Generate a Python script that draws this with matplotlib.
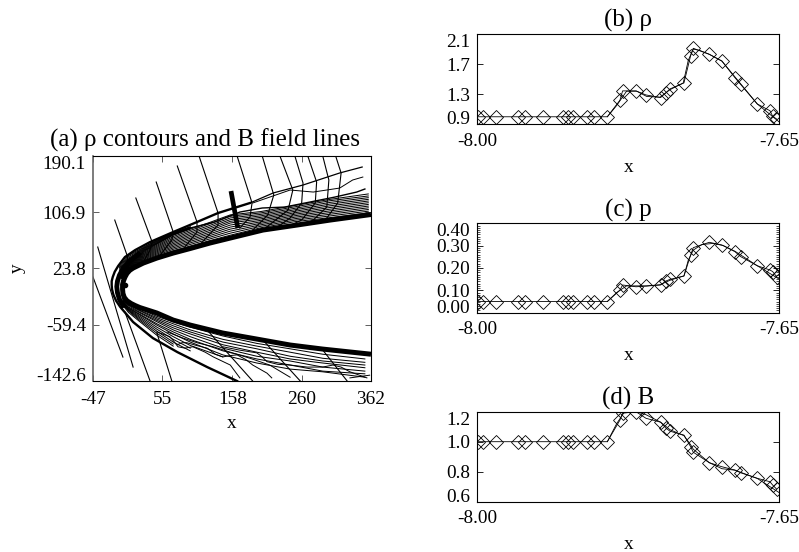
import numpy as np
import matplotlib
matplotlib.use("Agg")
import matplotlib.pyplot as plt

plt.rcParams['font.family'] = ['Liberation Serif', 'DejaVu Serif']

# ---------- profile panels ----------
x_pts = [-7.9988,-7.993,-7.9788,-7.9533,-7.9448,-7.9235,-7.9011,-7.8945,-7.8895,-7.8725,-7.8648,-7.8493,
         -7.8347,-7.8316,-7.8161,-7.8045,-7.7875,-7.7813,-7.7767,-7.7605,-7.7528,-7.7497,-7.7311,-7.7165,
         -7.7014,-7.6948,-7.6755,-7.6608,-7.6577,-7.6531]
rho_pts = [1.0]*12 + [1.22,1.344,1.344,1.29,1.256,1.32,1.37,1.45,1.81,1.91,1.83,1.74,1.52,1.43,1.17,1.08,1.007,0.97]
p_pts = [0.05]*12 + [.101,.124,.116,.119,.124,.142,.149,.164,.258,.291,.315,.303,.273,.251,.21,.191,.184,.161]
b_pts = [1.0]*12 + [1.144,1.19,1.2,1.156,1.13,1.09,1.07,1.044,.967,.93,.86,.833,.811,.793,.756,.733,.711,.684]

x_smooth_rho = [-7.8493,-7.8385,-7.827,-7.8153,-7.8037,-7.7883,-7.7767,-7.7613,-7.7555,-7.7497,-7.7419,-7.7311,-7.7165,-7.7014,-7.6755,-7.65]
rho_smooth = [1.0,1.15,1.34,1.34,1.27,1.26,1.36,1.45,1.75,1.9,1.88,1.83,1.74,1.53,1.17,0.93]
x_smooth_p = [-7.8493,-7.8385,-7.827,-7.8037,-7.7883,-7.7767,-7.7605,-7.7555,-7.7497,-7.7399,-7.7264,-7.7148,-7.7014,-7.6755,-7.65]
p_smooth = [.05,.09,.12,.12,.125,.145,.165,.235,.28,.305,.31,.30,.275,.21,.15]
x_smooth_b = [-7.8493,-7.8385,-7.827,-7.8045,-7.7875,-7.7767,-7.7605,-7.7528,-7.7497,-7.7311,-7.7165,-7.7014,-7.6755,-7.65]
b_smooth = [1.0,1.12,1.22,1.18,1.13,1.08,1.04,.98,.95,.86,.82,.81,.755,.66]

# ---------- panel (a): boundaries ----------
outer_up_x = [349,316,262,218,184]
outer_up_y = [173.8,165,147.2,135.4,120.6]
outer_x = [184,137,106,71,37,15,0,-10,-15,-18,-19.5,-19.5,-19,-17,-13,-7,12,41,77,121,165]
outer_y = [120.6,105.8,92.5,77.7,62.9,51,40.7,27.4,19,11,5,-1,-7,-15,-24,-33,-55.4,-79.1,-99.8,-122,-142.7]
inner_x = [362,302,253,203,155,125,96,71,47,27,12,7,3,0,-2,-3.5,-3.5,-3,-1,3,9,15,22,47,71,96,144,194,243,291,362]
inner_y = [103.6,95.4,88,80.6,68.8,61.4,53.3,46.6,39.2,31.8,24.4,21,16.5,11,6,0,-7,-13,-19,-24,-28,-31,-34,-42.1,-52.5,-59.9,-71.7,-80.6,-89.4,-95.4,-103]
nose_x = [20,8,-2,-8,-11,-12,-11,-8,-3]
nose_y = [45,36,25,14,5,-3,-12,-22,-31]
blob_x = [0]
blob_y = [-0.7]

# upper contours: one row per x station, one column per contour
up_x = [-5,5,27,47,71,96,125,155,200,250,302,358]
up_y = [
 [9,9.5,10,10.5,11,11.5,12,12.5,13,13.5,14,14.5],
 [21,21.8,22.6,23.4,24.2,25,25.8,26.6,27.4,28.2,29,29.8],
 [35,36.2,37.4,38.6,39.8,41,42.2,43.4,44.6,45.8,47,48.2],
 [42,43.6,45.2,46.8,48.4,50,51.6,53.2,54.8,56.4,58,59.6],
 [50,52.1,54.2,56.3,58.4,60.5,62.6,64.7,66.8,68.9,71,73],
 [57,59.3,61.6,63.9,66.2,68.5,70.8,73.1,75.4,77.7,80,82],
 [65,67.5,70,72.5,75,77.5,80,82.5,85,87.5,90,92],
 [73,76,79,82,85,88,91,93.5,96,98.5,101,103],
 [84,86.2,88.4,90.6,92.8,95,97.2,99.4,101.6,103.8,106,108],
 [93,95.2,97.4,99.6,101.8,104,106.2,108.4,110.6,112.8,115,117],
 [99,101.5,104,106.5,109,111.5,114,116.5,119,121.5,124,126],
 [106,108.5,111,113.5,116,118.5,121,123.5,126,128.5,131,134],
]
# the contours squeezed against the shock on the left
up2_x = [-8,5,27,47,71,96]
up2_y = [
 [15,17,19,21,23,25,27],
 [31,33,35,37,39,41,43],
 [49,50,51,52,53,54,55],
 [60.5,61.3,62,63,64,65,66],
 [73.5,74,74.5,75,75.5,76,76.5],
 [82.5,83,83.5,84,84.5,85,85.5],
]
wave1_x = [96,132,169,202,235,272,309,341,353]
wave1_y = [83.6,92.5,107.2,113.2,114.6,122,129.4,136.8,141.3]
wave2_x = [188,243,277,316,335,350]
wave2_y = [120.6,139.8,136.8,142.7,154.6,159]

# lower contours: one row per contour
low_x = [-3,5,22,47,71,96,144,194,243,291,353]
low_y = [
 [-20,-28,-36,-47,-55,-63,-76,-87,-95,-103,-110],
 [-21,-29,-38,-49,-58,-67,-81,-91,-100,-109,-115],
 [-22,-30,-39,-51,-61,-70,-85,-95,-106,-113,-119],
 [-23,-31,-41,-53,-64,-73,-89,-100,-110,-116,-123],
 [-24,-33,-42,-55,-67,-77,-94,-106,-113,-122,-128],
 [-25,-34,-44,-58,-70,-81,-98,-110,-119,-128,-132],
 [-26,-35,-45,-60,-73,-85,-104,-116,-125,-129,-137],
 [-27,-36,-47,-63,-77,-90,-107,np.nan,np.nan,np.nan,np.nan],
 [-28,-37,-49,-66,-81,-94,np.nan,np.nan,np.nan,np.nan,np.nan],
 [-29,-38,-51,-69,-85,-98,np.nan,np.nan,np.nan,np.nan,np.nan],
 [-30,-39,-53,-72,-88,np.nan,np.nan,np.nan,np.nan,np.nan,np.nan],
 [-31,-41,-55,-75,-91,np.nan,np.nan,np.nan,np.nan,np.nan,np.nan],
]
wig0_x = [47,66,72,78,88,100,118,130,155,169]
wig0_y = [-70,-77,-84,-92,-94,-92,-100,-107,-119,-138]
wig1_x = [77,84,91,105,121,133,144,155,165,178,188,209,216]
wig1_y = [-89,-86,-86,-90,-94,-103,-107,-105,-104,-111,-119,-131,-138]
wig2_x = [62,85,106,130,155,184,213,243]
wig2_y = [-70,-79,-86,-92,-100,-109,-119,-137]
wig3_x = [144,169,194,202,209,225,243,268,291,306,318,331,356]
wig3_y = [-92,-97,-101,-107,-114,-118,-119,-122,-122,-119,-122,-129,-138]
wig4_x = [331,360]
wig4_y = [-138,-134]

# field lines
field_lines = [
 ([-47,-3],[11.1,-107.2]),
 ([-40,12],[55.5,-122]),
 ([-15,4,3,0],[95.4,40.7,28.9,14.1]),
 ([16,40,37,27],[128,62.9,51,33.3]),
 ([46,71,69,52],[151.6,77.7,65.8,43.7]),
 ([77,106,106,88],[175.3,92.5,77.7,55.5]),
 ([109,137,137,107],[190.1,105.8,88,55.5]),
 ([165,187,184,169],[190.1,120.6,99.9,83.6]),
 ([202,219,210,188],[190.1,132.4,102.8,80.6]),
 ([228,247,240,203],[190.1,139.8,110.2,80.6]),
 ([250,262,260,243,218],[190.1,150.1,120.6,98.4,80.6]),
 ([269,282,280,260,235],[190.1,151.6,120.6,95.4,83.6]),
 ([291,300,297,277,260],[190.1,154.6,114.7,95.4,88]),
 ([310,318,313,297,282],[190.1,165,120.6,98.4,91]),
 ([0,37],[-40.6,-142.7]),
 ([47,69],[-71.7,-142.7]),
 ([121,188],[-67.3,-142.7]),
 ([203,258],[-82,-142.7]),
 ([291,327],[-96.8,-142.7]),
]
thick_x = [156,166]
thick_y = [138.3,83.6]

W, H = 799, 552
fig = plt.figure(figsize=(W/100, H/100), dpi=100)

def box(l, t, r, b):
    return [l/W, 1-b/H, (r-l)/W, (b-t)/H]

FS = 13.9
TFS = 18
LW = 0.72

# panel (a)
ax = fig.add_axes(box(93, 156, 371, 381))
ax.set_xlim(-47, 362)
ax.set_ylim(-142.6, 190.1)
ax.plot(up_x, up_y, color='k', lw=LW)
ax.plot(up2_x, up2_y, color='k', lw=LW)
for row in low_y:
    ax.plot(low_x, row, color='k', lw=LW)
for xs, ys in [(wig0_x,wig0_y),(wig1_x,wig1_y),(wig2_x,wig2_y),(wig3_x,wig3_y),(wig4_x,wig4_y),(wave2_x,wave2_y)]:
    ax.plot(xs, ys, color='k', lw=0.7)
ax.plot(wave1_x, wave1_y, color='k', lw=1.0)
for xs, ys in field_lines:
    ax.plot(xs, ys, color='k', lw=0.8)
ax.plot(outer_up_x, outer_up_y, color='k', lw=0.9)
ax.plot(outer_x, outer_y, color='k', lw=1.7)
ax.plot(nose_x, nose_y, color='k', lw=3.5)
ax.plot(inner_x, inner_y, color='k', lw=3.6, solid_capstyle='butt')
ax.plot(thick_x, thick_y, color='k', lw=3.4, solid_capstyle='butt')
ax.plot(blob_x, blob_y, 'o', color='k', ms=3)
ax.set_xticks([-47,55,158,260,362])
ax.set_xticklabels(['-47','55','158','260','362'], fontsize=FS)
ax.set_yticks([-142.6,-59.4,23.8,106.9,190.1])
ax.set_yticklabels(['-142.6','-59.4','23.8','106.9','190.1'], fontsize=FS)
ax.tick_params(direction='in', length=4, width=0.6, top=True, right=True, color='#444444')
ax.tick_params(axis='x', pad=7)
ax.tick_params(axis='y', pad=5)
lab = ax.get_yticklabels()
lab[0].set_va('baseline'); lab[-1].set_va('top')
for s in ax.spines.values():
    s.set_linewidth(0.8)
ax.spines['left'].set_color('#666666')
ax.spines['left'].set_linewidth(1.2)
ax.text(204.5/W, 1-140/H, '(a) ρ contours and B field lines', fontsize=TFS,
        ha='center', va='center', transform=fig.transFigure)
ax.set_xlabel('x', fontsize=FS, labelpad=5.5)
ax.set_ylabel('y', fontsize=FS, labelpad=7.5)

def profile(top, bottom, title, xs, ys, sx, sy, ylim, ticks, labels, minor=None):
    a = fig.add_axes(box(477.3, top, 779.3, bottom))
    a.plot(sx, sy, color='k', lw=0.6)
    a.plot(xs, ys, color='k', lw=0.6, marker='D', ms=7.2, mfc='none', mec='k', mew=0.6)
    a.set_xlim(-8.0, -7.65)
    a.set_ylim(*ylim)
    a.set_xticks([-8.0, -7.65])
    a.set_xticklabels(['-8.00', '-7.65'], fontsize=FS)
    a.set_yticks(ticks)
    a.set_yticklabels(labels, fontsize=FS)
    if minor is not None:
        a.set_yticks(minor, minor=True)
        a.tick_params(axis='y', which='minor', direction='in', length=2, width=0.5, left=True, right=True)
    a.tick_params(axis='y', which='major', direction='in', length=4, width=0.6, left=True, right=True, pad=5)
    a.tick_params(axis='x', which='major', direction='in', length=0, pad=6)
    l = a.get_yticklabels()
    l[0].set_va('baseline'); l[-1].set_va('top')
    for s in a.spines.values():
        s.set_linewidth(0.8)
    a.set_title(title, fontsize=TFS, pad=5)
    a.set_xlabel('x', fontsize=FS, labelpad=6.5)
    return a

profile(34, 124.3, '(b) ρ', x_pts, rho_pts, x_smooth_rho, rho_smooth, (0.9, 2.1),
        [0.9,1.3,1.7,2.1], ['0.9','1.3','1.7','2.1'])
profile(223.3, 312.7, '(c) p', x_pts, p_pts, x_smooth_p, p_smooth, (0.0, 0.40),
        [0,0.1,0.2,0.3,0.4], ['0.00','0.10','0.20','0.30','0.40'],
        minor=[i/100 for i in range(0, 41)])
profile(411.7, 501.7, '(d) B', x_pts, b_pts, x_smooth_b, b_smooth, (0.6, 1.2),
        [0.6,0.8,1.0,1.2], ['0.6','0.8','1.0','1.2'])

fig.savefig('out.png', dpi=100)
